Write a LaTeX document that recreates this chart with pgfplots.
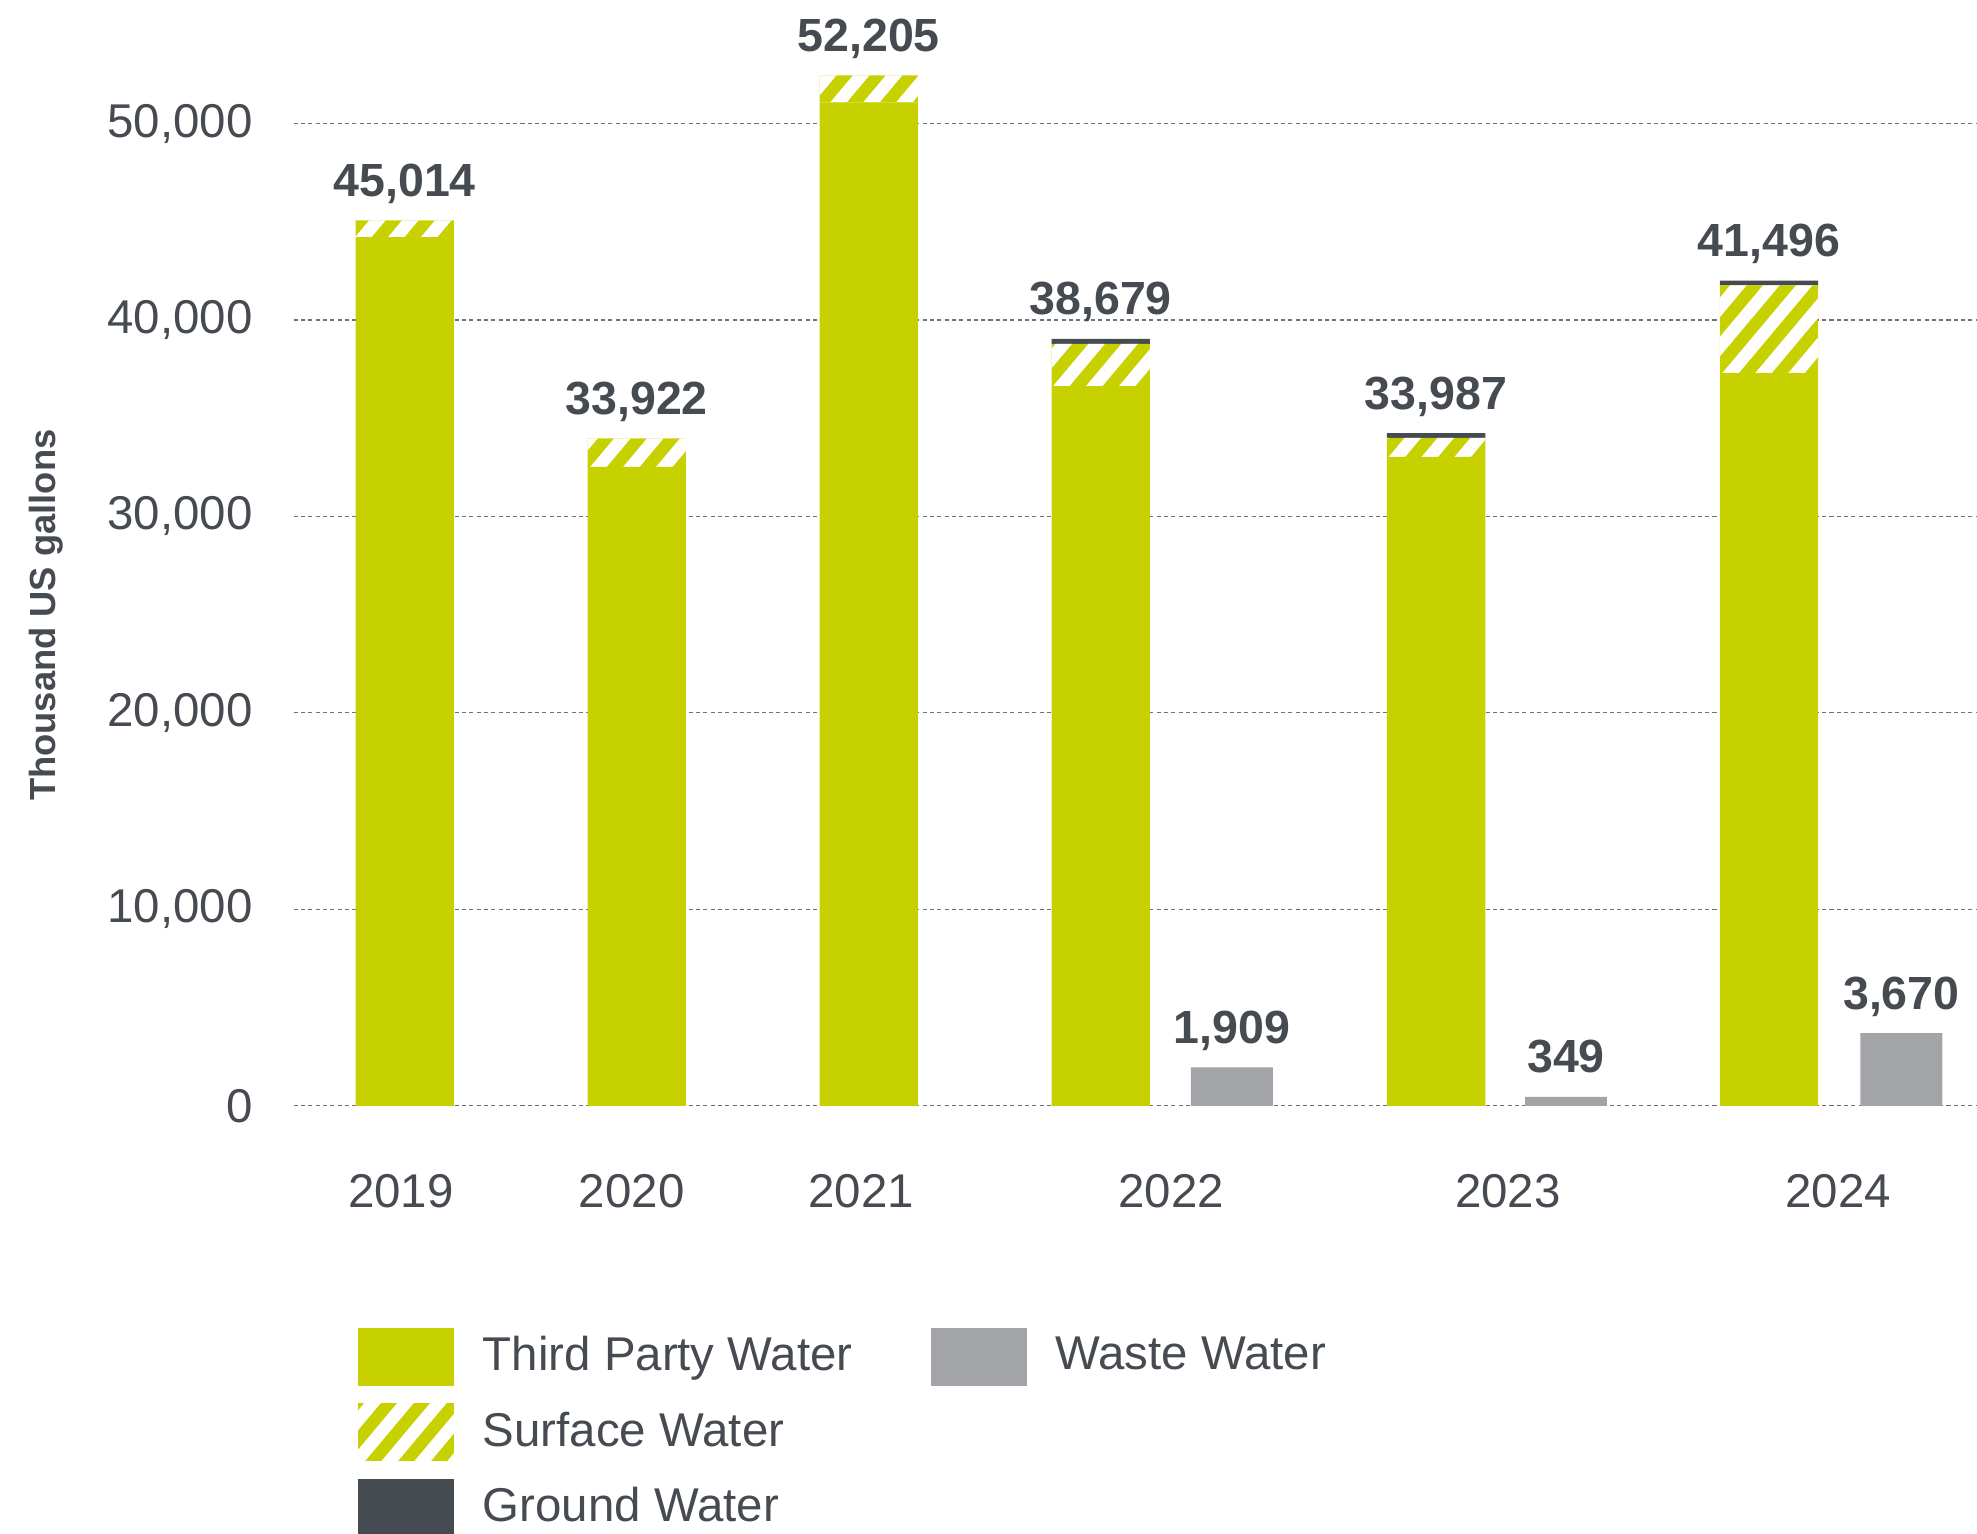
\documentclass[border=0pt]{standalone}
\usepackage{pgfplots}
\pgfplotsset{compat=1.18}
\usepackage{pgfplotstable}
\usepackage{fontspec}
\setmainfont{Liberation Sans}
\usetikzlibrary{patterns.meta}
\definecolor{tpgreen}{HTML}{C8D100}
\definecolor{wastegray}{HTML}{A3A4A7}
\definecolor{darkgw}{HTML}{464A51}
\definecolor{txt}{HTML}{464A51}
\definecolor{gridc}{HTML}{6E7176}

\pgfplotstableread{
x tp sw gw ww top label
321 44220 850 0 0 45070 45,014
505 32520 1460 0 0 33980 33,922
689 51080 1370 0 0 52450 52,205
873 36640 2140 260 0 39040 38,679
977 0 0 0 1950 1950 1,909
1139 33030 970 240 0 34240 33,987
1242 0 0 0 450 450 349
1403 37300 4460 250 0 42010 41,496
1508 0 0 0 3700 3700 3,670
}\datatable

\begin{document}
\begin{tikzpicture}
\begin{axis}[
  at={(23.3mm,33.9mm)}, anchor=south west,
  scale only axis, width=133.5mm, height=85.69mm,
  xmin=233, xmax=1568, ymin=0, ymax=55000,
  ybar stacked,
  axis line style={draw=none},
  major tick length=0pt,
  xtick={318,501,683,929,1196,1458},
  xticklabels={2019,2020,2021,2022,2023,2024},
  ytick={0,10000,20000,30000,40000,50000},
  /pgf/number format/assume math mode=true,
  /pgf/number format/1000 sep={,},
  scaled y ticks=false,
  ymajorgrids,
  grid style={gridc, line width=0.08mm, dash pattern=on 0.32mm off 0.26mm},
  tick label style={font=\fontsize{10.7}{12}\selectfont, text=txt},
  yticklabel style={anchor=east, inner sep=0pt, xshift=-3.2mm},
  xticklabel style={anchor=north, inner sep=0pt, yshift=-5.4mm},
  ylabel={Thousand US gallons},
  ylabel style={at={(axis description cs:-0.1468,0.454)}, anchor=center, font=\bfseries\fontsize{8.2}{10}\selectfont, text=txt},
  clip=false,
  legend columns=2,
  legend cell align=left,
  legend style={at={(axis description cs:0.0382,-0.2054)}, anchor=north west,
    draw=none, fill=none, inner sep=0pt, outer sep=0pt, row sep=1.4mm,
    font=\fontsize{10.7}{12}\selectfont, text=txt, nodes={inner sep=0pt},
    /tikz/every odd column/.append style={column sep=2.3mm},
    /tikz/every even column/.append style={column sep=6.2mm}},
]
\addplot[fill=tpgreen, draw=none, bar width=78, forget plot] table[x=x,y=tp]{\datatable};
\addplot[fill=tpgreen, draw=none, bar width=78, forget plot,
  postaction={pattern={Lines[angle=50,distance=2mm,line width=1mm]}, pattern color=white}] table[x=x,y=sw]{\datatable};
\addplot[fill=darkgw, draw=none, bar width=78, forget plot] table[x=x,y=gw]{\datatable};
\addplot[fill=wastegray, draw=none, bar width=65, forget plot] table[x=x,y=ww]{\datatable};

\addlegendimage{legend image code/.code={\path[fill=tpgreen, draw=none] (0mm,-2.3mm) rectangle (7.6mm,2.3mm);}}
\addlegendentry{Third Party Water}
\addlegendimage{legend image code/.code={\path[fill=wastegray, draw=none] (0mm,-2.3mm) rectangle (7.6mm,2.3mm);}}
\addlegendentry{Waste Water}
\addlegendimage{legend image code/.code={
  \path[fill=tpgreen, draw=none] (0mm,-2.3mm) rectangle (7.6mm,2.3mm);
  \path[draw=none, pattern={Lines[angle=50,distance=2mm,line width=1mm]}, pattern color=white] (0mm,-2.3mm) rectangle (7.6mm,2.3mm);}}
\addlegendentry{Surface Water}
\addlegendimage{empty legend}
\addlegendentry{}
\addlegendimage{legend image code/.code={\path[fill=darkgw, draw=none] (0mm,-2.3mm) rectangle (7.6mm,2.3mm);}}
\addlegendentry{Ground Water}
\end{axis}

\begin{axis}[
  at={(23.3mm,33.9mm)}, anchor=south west,
  scale only axis, width=133.5mm, height=85.69mm,
  xmin=233, xmax=1568, ymin=0, ymax=55000,
  hide axis, clip=false,
]
\addplot[draw=none, mark=none, nodes near coords, point meta=explicit symbolic,
  nodes near coords style={anchor=base, yshift=1.9mm, inner sep=0pt,
    font=\bfseries\fontsize{10.5}{12}\selectfont, text=txt}]
  table[x=x,y=top,meta=label]{\datatable};
\end{axis}
\pgfresetboundingbox
\path[use as bounding box] (0,0) rectangle (156.8mm,121.6mm);
\end{tikzpicture}
\end{document}
